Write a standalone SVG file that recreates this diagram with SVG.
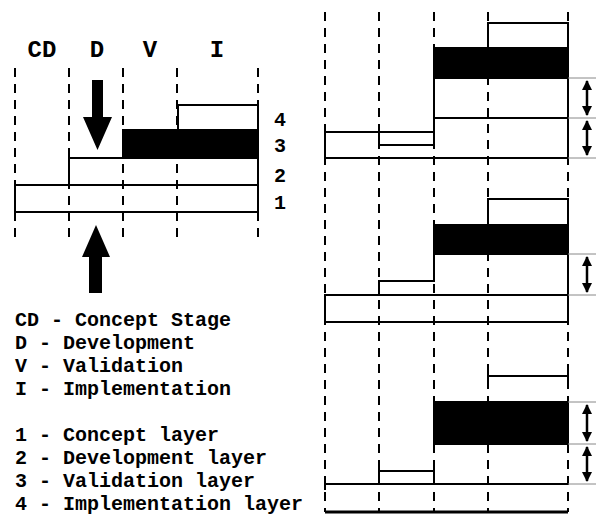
<svg xmlns="http://www.w3.org/2000/svg" width="596" height="515" viewBox="0 0 596 515">
<style>
.dash{stroke:#000;stroke-width:2;stroke-dasharray:9 7;fill:none}
.bar{stroke:#000;stroke-width:2;fill:none}
.blk{stroke:#000;stroke-width:2;fill:#000}
.ln{stroke:#000;stroke-width:2;fill:none}
.tick{stroke:#888;stroke-width:1;fill:none}
.dbl{stroke:#000;stroke-width:2.5;fill:none;marker-start:url(#ah);marker-end:url(#ah)}
.hdr{font-family:"Liberation Mono",monospace;font-weight:bold;font-size:24px;fill:#000;text-anchor:middle}
.num{font-family:"Liberation Mono",monospace;font-weight:bold;font-size:20px;fill:#000;text-anchor:middle}
.leg{font-family:"Liberation Mono",monospace;font-weight:bold;font-size:20px;fill:#000}
</style>
<defs>
<marker id="ah" viewBox="0 0 10 10" refX="9" refY="5" markerWidth="4" markerHeight="5" orient="auto-start-reverse" markerUnits="strokeWidth">
<path d="M0,0 L10,5 L0,10 z" fill="#000"/>
</marker>
</defs>
<rect width="596" height="515" fill="#fff"/>

<g id="left-panel">
  <g id="stage-labels">
    <text class="hdr" x="42" y="57">CD</text>
    <text class="hdr" x="97" y="57">D</text>
    <text class="hdr" x="150" y="57">V</text>
    <text class="hdr" x="217" y="57">I</text>
  </g>
  <g id="left-dashes">
    <line class="dash" x1="15" y1="68" x2="15" y2="240"/>
    <line class="dash" x1="69" y1="68" x2="69" y2="240"/>
    <line class="dash" x1="123" y1="68" x2="123" y2="240"/>
    <line class="dash" x1="177" y1="68" x2="177" y2="240"/>
    <line class="dash" x1="258" y1="68" x2="258" y2="240"/>
  </g>
  <g id="layer4"><rect class="bar" x="178" y="105" width="80" height="25"/></g>
  <g id="layer3"><rect class="blk" x="123" y="130" width="135" height="28"/></g>
  <g id="layer2"><rect class="bar" x="69" y="158" width="189" height="27"/></g>
  <g id="layer1"><rect class="bar" x="15" y="185" width="243" height="27"/></g>
  <g id="layer-numbers">
    <text class="num" x="280" y="126">4</text>
    <text class="num" x="280" y="152">3</text>
    <text class="num" x="280" y="182">2</text>
    <text class="num" x="280" y="209">1</text>
  </g>
  <g id="down-arrow"><path d="M92,80 H103 V117 H112 L97.5,150 L83,117 H92 Z" fill="#000"/></g>
  <g id="up-arrow"><path d="M89,293 H102 V257 H110 L96,225 L82,257 H89 Z" fill="#000"/></g>
</g>

<g id="legend">
  <text class="leg" x="15" y="326">CD - Concept Stage</text>
  <text class="leg" x="15" y="349">D - Development</text>
  <text class="leg" x="15" y="372">V - Validation</text>
  <text class="leg" x="15" y="395">I - Implementation</text>
  <text class="leg" x="15" y="441">1 - Concept layer</text>
  <text class="leg" x="15" y="464">2 - Development layer</text>
  <text class="leg" x="15" y="487">3 - Validation layer</text>
  <text class="leg" x="15" y="510">4 - Implementation layer</text>
</g>

<g id="right-dashes">
  <line class="dash" x1="325" y1="12" x2="325" y2="512"/>
  <line class="dash" x1="379" y1="12" x2="379" y2="512"/>
  <line class="dash" x1="434" y1="12" x2="434" y2="512"/>
  <line class="dash" x1="488" y1="12" x2="488" y2="512"/>
  <line class="dash" x1="568" y1="12" x2="568" y2="512"/>
</g>

<g id="panel1">
  <rect class="bar" x="488" y="23" width="80" height="25"/>
  <rect class="blk" x="434" y="48" width="134" height="30"/>
  <path class="ln" d="M434,78 V145 M434,118 H568 M568,48 V158 M325,158 H568 M325,132 V158 M325,132 H434 M379,132 V145 H434"/>
</g>

<g id="panel2">
  <rect class="bar" x="488" y="199" width="80" height="26"/>
  <rect class="blk" x="434" y="225" width="134" height="29"/>
  <path class="ln" d="M434,254 V281 H379 V295 M568,225 V322"/>
  <rect class="bar" x="325" y="295" width="243" height="27"/>
</g>

<g id="panel3">
  <path class="ln" d="M488,376 H568 M488,371 V381 M568,371 V381"/>
  <rect class="blk" x="434" y="402" width="134" height="42"/>
  <path class="ln" d="M379,471 H434 M379,466 V476 M434,466 V476"/>
  <path class="ln" d="M325,484 H568 M325,484 V490"/>
  <line x1="325" y1="512" x2="568" y2="512" stroke="#000" stroke-width="3"/>
</g>

<g id="connectors">
  <path class="tick" d="M568,78 H596 M568,118 H596 M568,158 H596"/>
  <line class="dbl" x1="587" y1="81" x2="587" y2="115"/>
  <line class="dbl" x1="587" y1="121" x2="587" y2="155"/>
  <path class="tick" d="M568,254 H596 M568,295 H596"/>
  <line class="dbl" x1="587" y1="257" x2="587" y2="292"/>
  <path class="tick" d="M568,402 H596 M568,444 H596 M568,484 H596"/>
  <line class="dbl" x1="587" y1="405" x2="587" y2="441"/>
  <line class="dbl" x1="587" y1="447" x2="587" y2="481"/>
</g>
</svg>
